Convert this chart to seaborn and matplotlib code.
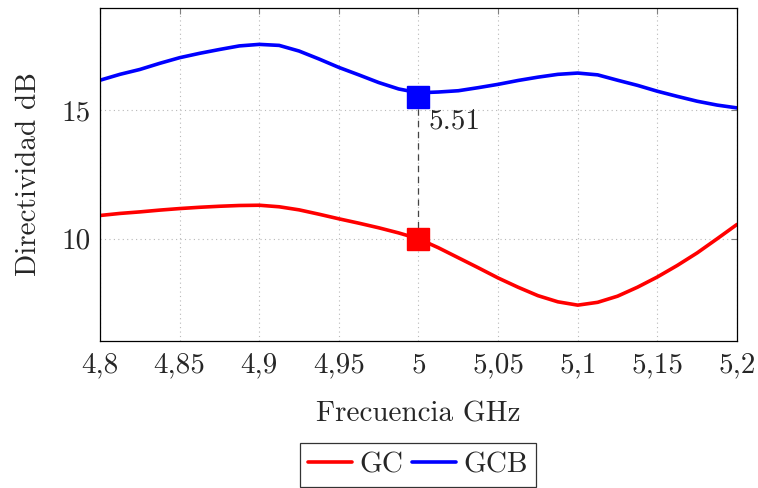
import matplotlib
matplotlib.use("Agg")
import matplotlib.pyplot as plt
import seaborn as sns
import pandas as pd

freq = [4.8, 4.8125, 4.825, 4.8375, 4.85, 4.8625, 4.875, 4.8875, 4.9, 4.9125, 4.925, 4.9375,
        4.95, 4.9625, 4.975, 4.9875, 5.0, 5.0125, 5.025, 5.0375, 5.05, 5.0625, 5.075, 5.0875,
        5.1, 5.1125, 5.125, 5.1375, 5.15, 5.1625, 5.175, 5.1875, 5.2]
gc = [10.90, 10.98, 11.04, 11.11, 11.17, 11.22, 11.26, 11.29, 11.30, 11.24, 11.12, 10.95,
      10.77, 10.60, 10.42, 10.22, 9.99, 9.64, 9.25, 8.86, 8.46, 8.10, 7.77, 7.53,
      7.40, 7.51, 7.75, 8.10, 8.50, 8.95, 9.44, 9.99, 10.55]
gcb = [16.18, 16.41, 16.60, 16.84, 17.06, 17.23, 17.38, 17.52, 17.58, 17.54, 17.32, 17.01,
       16.68, 16.39, 16.09, 15.84, 15.69, 15.72, 15.77, 15.89, 16.02, 16.17, 16.30, 16.41,
       16.46, 16.39, 16.18, 15.98, 15.75, 15.55, 15.36, 15.21, 15.10]

mark_x = 5.0
mark_gc = 10.0
mark_gcb = 15.51
diff_label = "5.51"

xticks = [4.8, 4.85, 4.9, 4.95, 5.0, 5.05, 5.1, 5.15, 5.2]
xtick_labels = ["4,8", "4,85", "4,9", "4,95", "5", "5,05", "5,1", "5,15", "5,2"]
yticks = [10, 15]
ytick_labels = ["10", "15"]

df = pd.DataFrame({
    "Frecuencia": freq * 2,
    "Directividad": gc + gcb,
    "Serie": ["GC"] * len(freq) + ["GCB"] * len(freq),
})

sns.set_style("white")
plt.rcParams["font.family"] = ["cmr10", "DejaVu Serif"]
plt.rcParams["axes.formatter.use_mathtext"] = True

FS = 21

fig = plt.figure(figsize=(7.58, 4.88), dpi=100)
ax = fig.add_axes([100/758, 1-341/488, (737-100)/758, (341-8)/488])

sns.lineplot(data=df, x="Frecuencia", y="Directividad", hue="Serie",
             palette={"GC": "#ff0000", "GCB": "#0000ff"}, linewidth=2.6,
             ax=ax, legend=True)
for ln in ax.get_lines():
    ln.set_solid_joinstyle("round")

ax.plot([mark_x, mark_x], [mark_gc, mark_gcb], linestyle=(0, (5, 4)),
        color="#444444", linewidth=0.9, zorder=3)
ax.plot([mark_x], [mark_gcb], marker="s", markersize=15.5, color="#0000ff",
        linestyle="none", zorder=4)
ax.plot([mark_x], [mark_gc], marker="s", markersize=15.5, color="#ff0000",
        linestyle="none", zorder=4)
ax.annotate(diff_label, xy=(mark_x, mark_gcb), xytext=(7, -8),
            textcoords="offset points", ha="left", va="top", fontsize=FS)

ax.set_xlim(4.8, 5.2)
ax.set_ylim(6.0, 19.0)
ax.set_xticks(xticks)
ax.set_xticklabels(xtick_labels)
ax.set_yticks(yticks)
ax.set_yticklabels(ytick_labels)
ax.tick_params(axis="both", which="both", direction="in", length=4.5, width=0.8,
               color="#808080", labelsize=FS, top=True, right=True)
ax.tick_params(axis="x", pad=8)
ax.tick_params(axis="y", pad=7)
ax.grid(True, linestyle=(0, (1, 3)), color="#b8b8b8", linewidth=0.8)
for s in ax.spines.values():
    s.set_color("black")
    s.set_linewidth(0.9)
ax.set_xlabel("Frecuencia GHz", fontsize=FS, labelpad=16)
ax.set_ylabel("Directividad dB", fontsize=FS, labelpad=14)

handles, labels = ax.get_legend_handles_labels()
ax.legend_.remove()
leg = fig.legend(handles, labels, loc="upper center", bbox_to_anchor=(418/758, 1-443/488),
                 ncol=2, fontsize=FS, frameon=True, fancybox=False, edgecolor="black",
                 handlelength=1.5, handletextpad=0.25, columnspacing=0.3,
                 borderpad=0.3, borderaxespad=0)
leg.get_frame().set_linewidth(0.9)
for h in leg.get_lines():
    h.set_linewidth(2.6)

fig.savefig("out.png", dpi=100)
